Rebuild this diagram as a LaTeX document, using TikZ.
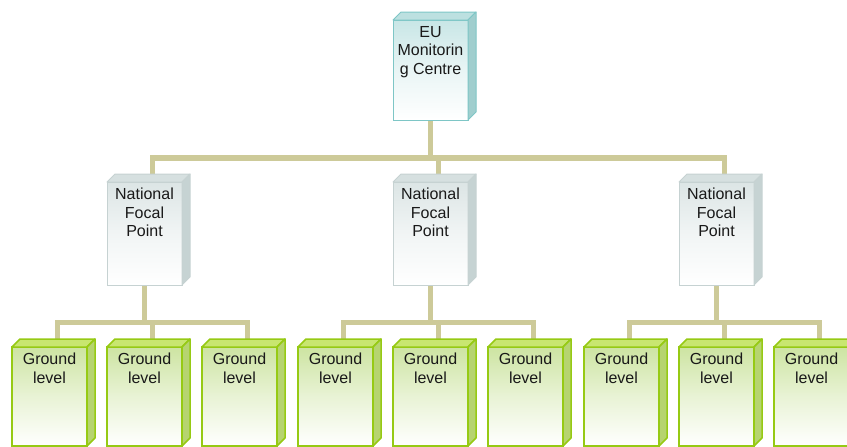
\documentclass[tikz,border=0pt]{standalone}
\usepackage{fontspec}
\setmainfont{Liberation Sans}
\usetikzlibrary{calc,backgrounds}
\definecolor{conncol}{RGB}{205,202,153}
\definecolor{eubd}{RGB}{126,198,198}
\definecolor{eufront}{RGB}{200,230,230}
\definecolor{eutopf}{RGB}{188,224,224}
\definecolor{eusidef}{RGB}{160,206,206}
\definecolor{nbd}{RGB}{198,210,210}
\definecolor{nfront}{RGB}{220,229,229}
\definecolor{ntopf}{RGB}{214,224,224}
\definecolor{nsidef}{RGB}{198,211,211}
\definecolor{gbd}{RGB}{150,202,20}
\definecolor{gfront}{RGB}{205,228,162}
\definecolor{gtopf}{RGB}{200,230,112}
\definecolor{gsidef}{RGB}{182,212,112}
\definecolor{txt}{RGB}{25,25,25}
\newcommand\cubefaces[5]{%
  \filldraw[fill=#2, draw=#4, line width=#5, line join=round]
    (#1.north west) -- ++(8pt,8pt) -- ($(#1.north east)+(8pt,8pt)$) -- (#1.north east) -- cycle;
  \filldraw[fill=#3, draw=#4, line width=#5, line join=round]
    (#1.north east) -- ++(8pt,8pt) -- ($(#1.south east)+(8pt,8pt)$) -- (#1.south east) -- cycle;}
\begin{document}
\begin{tikzpicture}[x=1pt,y=-1pt,
  cube/.style={rectangle, inner sep=0pt, outer sep=0pt, minimum width=75pt, anchor=north west},
  eubox/.style={cube, minimum height=100pt, draw=eubd, line width=1pt, top color=eufront, bottom color=white, middle color=eufront!40!white},
  nbox/.style={cube, minimum height=103pt, draw=nbd, line width=1pt, top color=nfront, bottom color=white, middle color=nfront!40!white},
  gbox/.style={cube, minimum height=99pt, draw=gbd, line width=1.5pt, top color=gfront, bottom color=white, middle color=gfront!45!white},
  lbl/.style={anchor=north, inner sep=0pt, align=center, text=txt, font=\fontsize{16}{18.5}\selectfont},
  conn/.style={draw=conncol, line width=5.5pt}]
\useasboundingbox (0,0) rectangle (847,447);

% EU monitoring centre
\node[eubox] (eu) at (393,20) {};
\cubefaces{eu}{eutopf}{eusidef}{eubd}{1pt}
\node[lbl] (eut) at ($(eu.north)+(0,6)$) {EU\\Monitorin\\g Centre};

\foreach \i in {0,1,2}{
  \pgfmathsetmacro{\nx}{107+286*\i}
  \node[nbox] (n\i) at (\nx,182) {};
  \cubefaces{n\i}{ntopf}{nsidef}{nbd}{1pt}
  \node[lbl] (nt\i) at ($(n\i.north)+(0,6)$) {National\\Focal\\Point};
  \foreach \j in {0,1,2}{
    \pgfmathsetmacro{\gx}{\nx+95*(\j-1)}
    \node[gbox] (g\i\j) at (\gx,347) {};
    \cubefaces{g\i\j}{gtopf}{gsidef}{gbd}{1.5pt}
    \node[lbl] (gt\i\j) at ($(g\i\j.north)+(0,6)$) {Ground\\level};
  }
}

\begin{scope}[on background layer]
  \foreach \i in {0,1,2}{
    \path[conn] (eu.south) -- ++(0,38) -| ($(n\i.north)+(8pt,8pt)$);
    \foreach \j in {0,1,2}{
      \path[conn] (n\i.south) -- ++(0,37.5) -| ($(g\i\j.north)+(8pt,8pt)$);
    }
  }
\end{scope}
\end{tikzpicture}
\end{document}
